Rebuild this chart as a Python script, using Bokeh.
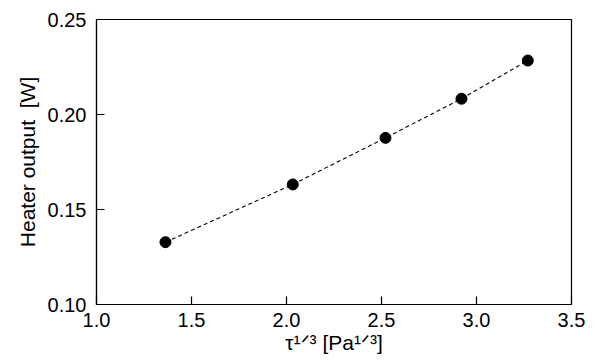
from bokeh.plotting import figure
from bokeh.models import Range1d, FixedTicker
from bokeh.embed import file_html
from bokeh.resources import INLINE

# data
tau_cbrt = [1.363, 2.033, 2.521, 2.921, 3.270]
heater_w = [0.1328, 0.1632, 0.1877, 0.2083, 0.2284]

x_ticks = [1.0, 1.5, 2.0, 2.5, 3.0, 3.5]
x_tick_labels = ["1.0", "1.5", "2.0", "2.5", "3.0", "3.5"]
y_ticks = [0.10, 0.15, 0.20, 0.25]
y_tick_labels = ["0.10", "0.15", "0.20", "0.25"]

x_title = "τ\u00b9\u141f\u00b3 [Pa\u00b9\u141f\u00b3]"
y_title = "Heater output\u00a0 [W]"

FONT = "Liberation Sans"

p = figure(width=595, height=361, output_backend="svg", toolbar_location=None,
           x_range=Range1d(1.0, 3.5), y_range=Range1d(0.10, 0.25),
           min_border_left=96, min_border_right=24, min_border_top=19, min_border_bottom=57)

p.grid.visible = False
p.outline_line_color = "black"
p.outline_line_width = 1.2
p.background_fill_color = "white"
p.border_fill_color = "white"

for ax, ticks, labels in ((p.xaxis[0], x_ticks, x_tick_labels), (p.yaxis[0], y_ticks, y_tick_labels)):
    ax.ticker = FixedTicker(ticks=ticks)
    ax.major_label_overrides = {t: l for t, l in zip(ticks, labels)}
    ax.major_tick_in = 8
    ax.major_tick_out = 0
    ax.minor_tick_line_color = None
    ax.axis_line_color = "black"
    ax.axis_line_width = 1.2
    ax.major_tick_line_color = "black"
    ax.major_tick_line_width = 1.2
    ax.major_label_text_font = FONT
    ax.major_label_text_font_size = "20px"
    ax.major_label_text_color = "black"
    ax.axis_label_text_font = FONT
    ax.axis_label_text_font_size = "21px"
    ax.axis_label_text_font_style = "normal"
    ax.axis_label_text_color = "black"

p.xaxis.major_label_standoff = 8
p.xaxis.axis_label = x_title
p.xaxis.axis_label_standoff = 1
p.yaxis.major_label_standoff = 10
p.yaxis.axis_label = y_title
p.yaxis.axis_label_standoff = 6

p.line(tau_cbrt, heater_w, line_color="black", line_width=1.1, line_dash="4 3")
p.scatter(tau_cbrt, heater_w, size=11, fill_color="black", line_color="black")

open("out.html", "w").write(file_html(p, INLINE))
